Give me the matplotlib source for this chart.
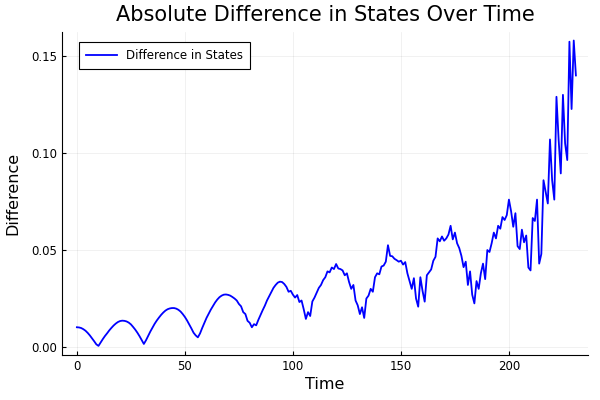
import matplotlib
matplotlib.use("Agg")

import numpy as np
import matplotlib.pyplot as plt

# -----------------------------
# DATA
# -----------------------------
diff_part1 = [  # t = 0 .. 49
    0.0102, 0.0101, 0.0098, 0.0092, 0.0084, 0.0073, 0.0060, 0.0045, 0.0030, 0.0014,
    0.0006, 0.0024, 0.0041, 0.0057, 0.0071, 0.0086, 0.0099, 0.0111, 0.0121, 0.0129,
    0.0134, 0.0136, 0.0135, 0.0132, 0.0126, 0.0117, 0.0104, 0.0090, 0.0074, 0.0056,
    0.0036, 0.0016, 0.0035, 0.0058, 0.0080, 0.0100, 0.0120, 0.0137, 0.0152, 0.0166,
    0.0178, 0.0188, 0.0195, 0.0199, 0.0201, 0.0201, 0.0198, 0.0192, 0.0183, 0.0170,
]
diff_part2 = [  # t = 50 .. 99
    0.0155, 0.0137, 0.0117, 0.0096, 0.0074, 0.0060, 0.0050, 0.0070, 0.0098, 0.0124,
    0.0150, 0.0172, 0.0193, 0.0212, 0.0230, 0.0245, 0.0257, 0.0265, 0.0270, 0.0271,
    0.0269, 0.0265, 0.0258, 0.0250, 0.0240, 0.0222, 0.0210, 0.0180, 0.0170, 0.0135,
    0.0125, 0.0102, 0.0118, 0.0112, 0.0140, 0.0165, 0.0190, 0.0213, 0.0240, 0.0262,
    0.0285, 0.0305, 0.0320, 0.0332, 0.0337, 0.0335, 0.0325, 0.0310, 0.0285, 0.0290,
]
diff_part3 = [  # t = 100 .. 149
    0.0270, 0.0255, 0.0268, 0.0232, 0.0240, 0.0195, 0.0145, 0.0180, 0.0160, 0.0235,
    0.0255, 0.0280, 0.0305, 0.0320, 0.0345, 0.0360, 0.0390, 0.0385, 0.0410, 0.0402,
    0.0428, 0.0405, 0.0402, 0.0395, 0.0370, 0.0380, 0.0335, 0.0300, 0.0320, 0.0240,
    0.0215, 0.0170, 0.0205, 0.0150, 0.0250, 0.0265, 0.0300, 0.0285, 0.0360, 0.0380,
    0.0375, 0.0415, 0.0420, 0.0440, 0.0525, 0.0470, 0.0468, 0.0455, 0.0448, 0.0440,
]
diff_part4 = [  # t = 150 .. 199
    0.0445, 0.0425, 0.0438, 0.0380, 0.0340, 0.0300, 0.0355, 0.0250, 0.0208, 0.0360,
    0.0290, 0.0234, 0.0370, 0.0385, 0.0400, 0.0445, 0.0465, 0.0560, 0.0545, 0.0570,
    0.0548, 0.0560, 0.0580, 0.0625, 0.0555, 0.0590, 0.0535, 0.0510, 0.0470, 0.0412,
    0.0440, 0.0320, 0.0390, 0.0270, 0.0225, 0.0340, 0.0300, 0.0380, 0.0430, 0.0350,
    0.0500, 0.0490, 0.0535, 0.0590, 0.0560, 0.0625, 0.0610, 0.0670, 0.0655, 0.0680,
]
diff_part5 = [  # t = 200 .. 231
    0.0760, 0.0700, 0.0620, 0.0690, 0.0520, 0.0505, 0.0605, 0.0540, 0.0575, 0.0410,
    0.0395, 0.0665, 0.0650, 0.0760, 0.0430, 0.0480, 0.0860, 0.0800, 0.0740, 0.1070,
    0.0860, 0.0760, 0.1290, 0.1070, 0.0895, 0.1300, 0.1050, 0.0964, 0.1574, 0.1227,
    0.1580, 0.1400,
]
difference = diff_part1 + diff_part2 + diff_part3 + diff_part4 + diff_part5
time = np.arange(len(difference))

x_ticks = [0, 50, 100, 150, 200]
y_ticks = [0.00, 0.05, 0.10, 0.15]

# -----------------------------
# PLOT
# -----------------------------
fig = plt.figure(figsize=(6, 4), dpi=100)
ax = fig.add_axes([0.1033, 0.1125, 0.8767, 0.8075])

ax.plot(time, difference, color="blue", linewidth=1.3, label="Difference in States")

ax.set_xlim(-6.9, 236.6)
ax.set_ylim(-0.0041, 0.1624)
ax.set_xticks(x_ticks)
ax.set_yticks(y_ticks)
ax.set_yticklabels([f"{v:.2f}" for v in y_ticks])

ax.grid(True, color="black", alpha=0.08, linewidth=0.5)
ax.spines["top"].set_visible(False)
ax.spines["right"].set_visible(False)
ax.tick_params(direction="in", length=3, labelsize=8.5, colors="black")

ax.set_xlabel("Time", fontsize=11.5, labelpad=3)
ax.set_ylabel("Difference", fontsize=11.5, labelpad=8)
ax.set_title("Absolute Difference in States Over Time", fontsize=15, pad=8)

leg = ax.legend(loc="upper left", bbox_to_anchor=(0.032, 0.969), borderaxespad=0,
                fontsize=8.5, fancybox=False, framealpha=1, edgecolor="black",
                handlelength=2.6, borderpad=0.6)
leg.get_frame().set_linewidth(0.8)

fig.savefig("out.png", dpi=100)
